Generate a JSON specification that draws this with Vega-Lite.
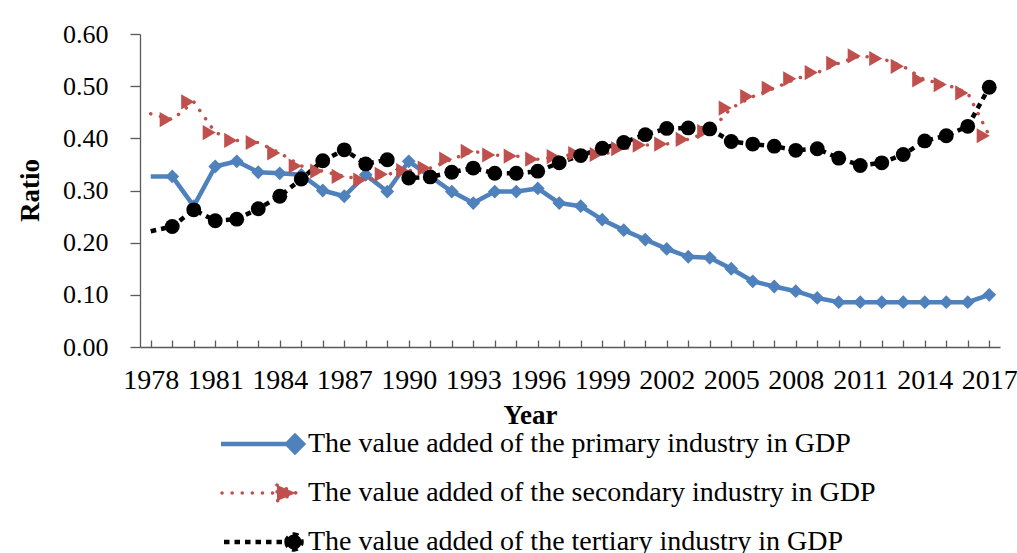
{
  "$schema": "https://vega.github.io/schema/vega-lite/v6.json",
  "autosize": {"type": "none"},
  "width": 860,
  "height": 313,
  "padding": {"left": 140, "top": 34, "right": 17, "bottom": 206},
  "background": "white",
  "config": {"view": {"stroke": null}, "font": "Liberation Serif"},
  "data": {"values": [
    {"year": 1978, "primary": 0.327, "secondary": 0.447, "tertiary": 0.222},
    {"year": 1979, "primary": 0.327, "secondary": 0.436, "tertiary": 0.231},
    {"year": 1980, "primary": 0.270, "secondary": 0.470, "tertiary": 0.263},
    {"year": 1981, "primary": 0.346, "secondary": 0.411, "tertiary": 0.242},
    {"year": 1982, "primary": 0.356, "secondary": 0.396, "tertiary": 0.245},
    {"year": 1983, "primary": 0.335, "secondary": 0.392, "tertiary": 0.265},
    {"year": 1984, "primary": 0.333, "secondary": 0.372, "tertiary": 0.289},
    {"year": 1985, "primary": 0.330, "secondary": 0.347, "tertiary": 0.322},
    {"year": 1986, "primary": 0.300, "secondary": 0.337, "tertiary": 0.357},
    {"year": 1987, "primary": 0.289, "secondary": 0.327, "tertiary": 0.378},
    {"year": 1988, "primary": 0.330, "secondary": 0.320, "tertiary": 0.351},
    {"year": 1989, "primary": 0.298, "secondary": 0.331, "tertiary": 0.359},
    {"year": 1990, "primary": 0.356, "secondary": 0.338, "tertiary": 0.324},
    {"year": 1991, "primary": 0.327, "secondary": 0.343, "tertiary": 0.326},
    {"year": 1992, "primary": 0.298, "secondary": 0.360, "tertiary": 0.335},
    {"year": 1993, "primary": 0.276, "secondary": 0.375, "tertiary": 0.343},
    {"year": 1994, "primary": 0.298, "secondary": 0.368, "tertiary": 0.333},
    {"year": 1995, "primary": 0.298, "secondary": 0.366, "tertiary": 0.333},
    {"year": 1996, "primary": 0.304, "secondary": 0.360, "tertiary": 0.337},
    {"year": 1997, "primary": 0.276, "secondary": 0.365, "tertiary": 0.353},
    {"year": 1998, "primary": 0.270, "secondary": 0.371, "tertiary": 0.367},
    {"year": 1999, "primary": 0.244, "secondary": 0.369, "tertiary": 0.381},
    {"year": 2000, "primary": 0.224, "secondary": 0.380, "tertiary": 0.392},
    {"year": 2001, "primary": 0.206, "secondary": 0.387, "tertiary": 0.407},
    {"year": 2002, "primary": 0.188, "secondary": 0.389, "tertiary": 0.419},
    {"year": 2003, "primary": 0.173, "secondary": 0.398, "tertiary": 0.420},
    {"year": 2004, "primary": 0.171, "secondary": 0.413, "tertiary": 0.418},
    {"year": 2005, "primary": 0.150, "secondary": 0.458, "tertiary": 0.394},
    {"year": 2006, "primary": 0.126, "secondary": 0.480, "tertiary": 0.389},
    {"year": 2007, "primary": 0.116, "secondary": 0.496, "tertiary": 0.385},
    {"year": 2008, "primary": 0.107, "secondary": 0.514, "tertiary": 0.377},
    {"year": 2009, "primary": 0.094, "secondary": 0.526, "tertiary": 0.380},
    {"year": 2010, "primary": 0.086, "secondary": 0.544, "tertiary": 0.362},
    {"year": 2011, "primary": 0.086, "secondary": 0.558, "tertiary": 0.348},
    {"year": 2012, "primary": 0.086, "secondary": 0.553, "tertiary": 0.353},
    {"year": 2013, "primary": 0.086, "secondary": 0.538, "tertiary": 0.369},
    {"year": 2014, "primary": 0.086, "secondary": 0.512, "tertiary": 0.395},
    {"year": 2015, "primary": 0.086, "secondary": 0.503, "tertiary": 0.405},
    {"year": 2016, "primary": 0.086, "secondary": 0.487, "tertiary": 0.423},
    {"year": 2017, "primary": 0.100, "secondary": 0.405, "tertiary": 0.498}
  ]},
  "transform": [{"fold": ["primary", "secondary", "tertiary"], "as": ["key", "value"]}],
  "encoding": {
    "x": {
      "field": "year", "type": "quantitative",
      "scale": {"domain": [1977.5, 2017.5], "nice": false, "zero": false},
      "axis": {
        "values": [1978,1979,1980,1981,1982,1983,1984,1985,1986,1987,1988,1989,1990,1991,1992,1993,1994,1995,1996,1997,1998,1999,2000,2001,2002,2003,2004,2005,2006,2007,2008,2009,2010,2011,2012,2013,2014,2015,2016,2017],
        "format": "d",
        "labelExpr": "datum.value % 3 == 1 ? datum.label : ''",
        "grid": false,
        "tickSize": -7,
        "tickColor": "#5a5a5a",
        "domainColor": "#5a5a5a",
        "tickWidth": 1.3,
        "domainWidth": 1.3,
        "labelFont": "Liberation Serif",
        "labelFontSize": 28,
        "labelColor": "black",
        "labelPadding": 26,
        "labelOverlap": false,
        "labelFlush": false,
        "labelBound": false,
        "title": "Year",
        "titleFont": "Liberation Serif",
        "titleFontSize": 27,
        "titleFontWeight": "bold",
        "titleColor": "black",
        "titleX": 390,
        "titleY": 68,
        "titleBaseline": "middle",
        "titleAlign": "center"
      }
    },
    "y": {
      "field": "value", "type": "quantitative",
      "scale": {"domain": [0, 0.6], "nice": false},
      "axis": {
        "values": [0, 0.1, 0.2, 0.3, 0.4, 0.5, 0.6],
        "format": ".2f",
        "grid": false,
        "tickSize": 10,
        "tickColor": "#5a5a5a",
        "domainColor": "#5a5a5a",
        "tickWidth": 1.3,
        "domainWidth": 1.3,
        "labelFont": "Liberation Serif",
        "labelFontSize": 26,
        "labelColor": "black",
        "labelPadding": 22,
        "title": "Ratio",
        "titleFont": "Liberation Serif",
        "titleFontSize": 27,
        "titleFontWeight": "bold",
        "titleColor": "black",
        "titleX": -110,
        "titleY": 156,
        "titleAngle": -90,
        "titleBaseline": "middle",
        "titleAlign": "center"
      }
    },
    "color": {
      "field": "key", "type": "nominal",
      "scale": {"domain": ["primary", "secondary", "tertiary"], "range": ["#4F81BD", "#C0504D", "#000000"]},
      "legend": {
        "orient": "none",
        "legendX": 141,
        "legendY": 396,
        "direction": "vertical",
        "title": null,
        "labelExpr": "datum.value == 'primary' ? 'The value added of the primary industry in GDP' : datum.value == 'secondary' ? 'The value added of the secondary industry in GDP' : 'The value added of the tertiary industry in GDP'",
        "labelFont": "Liberation Serif",
        "labelFontSize": 28,
        "labelColor": "black",
        "labelLimit": 900,
        "labelOffset": -1,
        "symbolSize": 400,
        "rowPadding": 17,
        "symbolType": "stroke",
        "encoding": {
          "symbols": {
            "shape": {"value": {"expr": "datum.value == 'primary' ? 'M-7.4,0L-0.2,0M-0.8,0L0,-0.8L0.8,0L0,0.8Z' : datum.value == 'secondary' ? 'M-7.3,0L-1.8,0M-1.8,-0.8L0.1,0L-1.8,0.8Z' : 'M-7.1,0L-0.8,0M-0.85,0A0.75,0.75 0 1,1 0.65,0A0.75,0.75 0 1,1 -0.85,0Z'"}},
            "fill": {"value": {"expr": "datum.value == 'primary' ? '#4F81BD' : datum.value == 'secondary' ? '#C0504D' : '#000000'"}},
            "stroke": {"value": {"expr": "datum.value == 'primary' ? '#4F81BD' : datum.value == 'secondary' ? '#C0504D' : '#000000'"}},
            "strokeDash": {"value": {"expr": "datum.value == 'primary' ? [1000, 0] : datum.value == 'secondary' ? [0.1, 10] : [5.5, 5]"}},
            "strokeWidth": {"value": {"expr": "datum.value == 'secondary' ? 3.5 : 4.5"}},
            "strokeCap": {"value": {"expr": "datum.value == 'secondary' ? 'round' : 'butt'"}},
            "opacity": {"value": 1},
            "fillOpacity": {"value": 1},
            "strokeOpacity": {"value": 1}
          }
        }
      }
    }
  },
  "layer": [
    {"transform": [{"filter": "datum.key == 'primary'"}], "mark": {"type": "line", "strokeWidth": 4.5, "strokeJoin": "round"}},
    {"transform": [{"filter": "datum.key == 'secondary'"}], "mark": {"type": "line", "strokeWidth": 3.5, "strokeCap": "round", "strokeDash": [0.1, 10]}},
    {"transform": [{"filter": "datum.key == 'tertiary'"}], "mark": {"type": "line", "strokeWidth": 4.5, "strokeDash": [5.5, 5]}},
    {"transform": [{"filter": "datum.key == 'primary' && datum.year > 1978"}], "mark": {"type": "point", "shape": "diamond", "filled": true, "size": 190, "opacity": 1}},
    {"transform": [{"filter": "datum.key == 'secondary' && datum.year > 1978"}], "mark": {"type": "point", "shape": "triangle-right", "filled": true, "size": 230, "opacity": 1, "xOffset": -6}},
    {"transform": [{"filter": "datum.key == 'tertiary' && datum.year > 1978"}], "mark": {"type": "point", "shape": "circle", "filled": true, "size": 220, "opacity": 1}}
  ]
}
